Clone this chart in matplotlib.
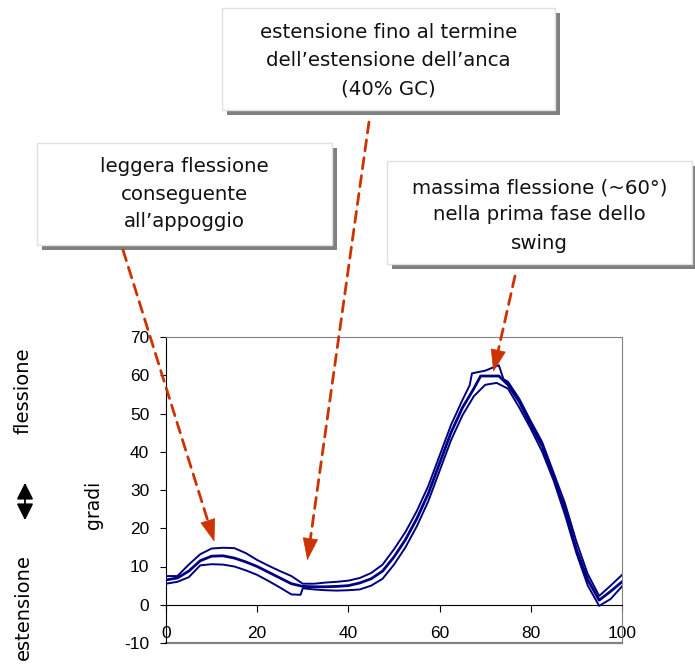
import numpy as np
import matplotlib
matplotlib.use("Agg")
import matplotlib.pyplot as plt
from matplotlib.patches import Rectangle, FancyArrowPatch

plt.rcParams["font.family"] = ["Liberation Sans", "DejaVu Sans"]

# ---------------- data ----------------
x_mean = [0, 2.5, 5, 7.5, 10, 12.5, 15, 17.5, 20, 22.5, 25, 27.5, 30, 32.5, 35, 37.5,
          40, 42.5, 45, 47.5, 50, 52.5, 55, 57.5, 60, 62.5, 65, 67.5, 69, 70, 72.5, 73,
          75, 77.5, 80, 82.5, 85, 87.5, 90, 92.5, 95, 97.5, 100]
mean = [6.5, 7.0, 8.8, 11.5, 12.7, 12.8, 12.2, 11.2, 10.0, 8.5, 7.0, 5.5, 4.8, 4.7, 4.7, 4.8,
        5.0, 5.7, 6.8, 8.8, 12.5, 17.0, 22.5, 29.0, 37.0, 45.0, 51.5, 56.5, 59.8, 59.8, 59.8, 59.8,
        57.5, 53.0, 47.0, 41.5, 33.5, 25.0, 14.5, 6.5, 1.2, 3.5, 6.0]

x_upper = [0, 2.5, 5, 7.5, 10, 12.5, 15, 17.5, 20, 22.5, 25, 27.5, 30, 32.5, 35, 37.5,
           40, 42.5, 45, 47.5, 50, 52.5, 55, 57.5, 60, 62.5, 65, 66.6, 67.1, 70, 72.5, 73,
           74, 75, 77.5, 80, 82.5, 85, 87.5, 90, 92.5, 95, 97.5, 100]
upper = [7.5, 7.5, 10.5, 13.2, 14.7, 14.9, 14.8, 13.5, 11.7, 10.2, 8.8, 7.5, 5.5, 5.5, 5.8, 6.0,
         6.3, 7.0, 8.3, 10.5, 14.5, 19.0, 24.5, 31.0, 39.0, 47.0, 53.5, 57.4, 60.5, 61.2, 62.4, 62.6,
         59.0, 58.3, 53.8, 48.0, 42.5, 34.5, 26.5, 16.5, 8.0, 2.3, 5.0, 7.8]

x_lower = [0, 2.5, 5, 7.5, 10, 12.5, 15, 17.5, 20, 22.5, 25, 27.5, 29.5, 30, 32.5, 35, 37.5,
           40, 42.5, 45, 47.5, 50, 52.5, 55, 57.5, 60, 62.5, 65, 67.5, 70, 72.5,
           75, 77.5, 80, 82.5, 85, 87.5, 90, 92.5, 95, 97.5, 100]
lower = [5.5, 6.0, 7.2, 10.3, 10.6, 10.5, 10.0, 9.0, 7.8, 6.2, 4.5, 2.7, 2.6, 4.3, 4.0, 3.8, 3.7,
         3.8, 4.0, 5.0, 6.8, 10.5, 15.0, 20.5, 27.0, 35.0, 43.0, 49.5, 54.5, 57.5, 58.0,
         56.5, 51.5, 46.0, 40.0, 32.5, 23.5, 13.5, 5.0, -0.3, 1.5, 4.8]

x_ticks = [0, 20, 40, 60, 80, 100]
y_ticks = [-10, 0, 10, 20, 30, 40, 50, 60, 70]

box_texts = [
    "leggera flessione\nconseguente\nall\u2019appoggio",
    "estensione fino al termine\ndell\u2019estensione dell\u2019anca\n(40% GC)",
    "massima flessione (~60\u00b0)\nnella prima fase dello\nswing",
]
# arrow tips in data coordinates
tips_x = [10.6, 31.0, 71.8]
tips_y = [16.5, 11.6, 60.9]

# ---------------- layout helpers ----------------
W, H = 695, 666
def fx(x):
    return x / W
def fy(y):
    return 1 - y / H

fig = plt.figure(figsize=(W / 100, H / 100), dpi=100)
fig.patch.set_facecolor("white")

ax = fig.add_axes([fx(166), fy(643), fx(622) - fx(166), fy(337) - fy(643)])
navy = "#000080"
ax.plot(x_upper, upper, color=navy, lw=1.4, zorder=3)
ax.plot(x_lower, lower, color=navy, lw=1.4, zorder=3)
ax.plot(x_mean, mean, color=navy, lw=2.0, zorder=3)

ax.set_xlim(0, 100)
ax.set_ylim(-10, 70)
ax.set_xticks(x_ticks)
ax.set_yticks(y_ticks)
ax.set_xticklabels([str(v) for v in x_ticks])
ax.set_yticklabels([str(v) for v in y_ticks])

ax.spines["bottom"].set_position(("data", 0))
ax.spines["bottom"].set_color("black")
ax.spines["left"].set_color("black")
ax.spines["top"].set_color("#808080")
ax.spines["right"].set_color("#808080")
ax.axhline(-10, color="#808080", lw=1.6, zorder=1, clip_on=False)
ax.tick_params(axis="both", labelsize=12.5, colors="black")
ax.tick_params(axis="x", direction="out", length=5, pad=10)
ax.tick_params(axis="y", direction="out", length=4, pad=8)

# ---------------- side labels ----------------
lab = dict(family="DejaVu Sans", color="black", rotation=90, ha="center", va="center")
fig.text(fx(23), fy(391), "flessione", fontsize=14, **lab)
fig.text(fx(23), fy(607), "estensione", fontsize=14, **lab)
fig.text(fx(93), fy(505), "gradi", fontsize=13.5, **lab)
fig.add_artist(FancyArrowPatch(
    (fx(25), fy(523)), (fx(25), fy(480)), transform=fig.transFigure,
    arrowstyle="<|-|>,head_length=0.5,head_width=0.25", mutation_scale=20,
    color="black", lw=1.3))

# ---------------- callout boxes ----------------
boxes = [(37, 143, 332, 245), (222, 8, 555, 110), (387, 161, 692, 264)]
line_y = [(167, 195, 222), (32, 61, 89), (188, 215, 243)]
for (x0, y0, x1, y1), txt, ly in zip(boxes, box_texts, line_y):
    fig.add_artist(Rectangle((fx(x0 + 5), fy(y1 + 5)), fx(x1 - x0), fy(y0) - fy(y1),
                             transform=fig.transFigure, facecolor="#808080",
                             edgecolor="none", zorder=5))
    fig.add_artist(Rectangle((fx(x0), fy(y1)), fx(x1 - x0), fy(y0) - fy(y1),
                             transform=fig.transFigure, facecolor="white",
                             edgecolor="#e0e0e0", lw=1.0, zorder=6))
    cx = (x0 + x1) / 2
    for line, yy in zip(txt.split("\n"), ly):
        fig.text(fx(cx), fy(yy), line, family="DejaVu Sans", fontsize=14.2,
                 ha="center", va="center", color="#111111", zorder=7)

# ---------------- dashed arrows with solid heads ----------------
starts = [(123, 250), (369, 122), (515, 276)]
red = "#cc3300"
head_len = 20.0
for (sx, sy), tx, ty in zip(starts, tips_x, tips_y):
    tip = ax.transData.transform((tx, ty))          # display pixels (origin bottom-left)
    start = np.array([sx, H - sy], dtype=float)
    d = tip - start
    u = d / np.hypot(*d)
    base = tip - u * head_len
    fig.add_artist(FancyArrowPatch(tuple(start), tuple(base + u * 2), transform=None,
                                   arrowstyle="-", color=red, lw=2.0,
                                   linestyle=(0, (4, 2.5)), shrinkA=0, shrinkB=0,
                                   zorder=8))
    fig.add_artist(FancyArrowPatch(tuple(base), tuple(tip), transform=None,
                                   arrowstyle="-|>,head_length=0.75,head_width=0.26",
                                   mutation_scale=20, color=red, lw=0.5,
                                   shrinkA=0, shrinkB=0, zorder=9))

fig.savefig("out.png", dpi=100)
